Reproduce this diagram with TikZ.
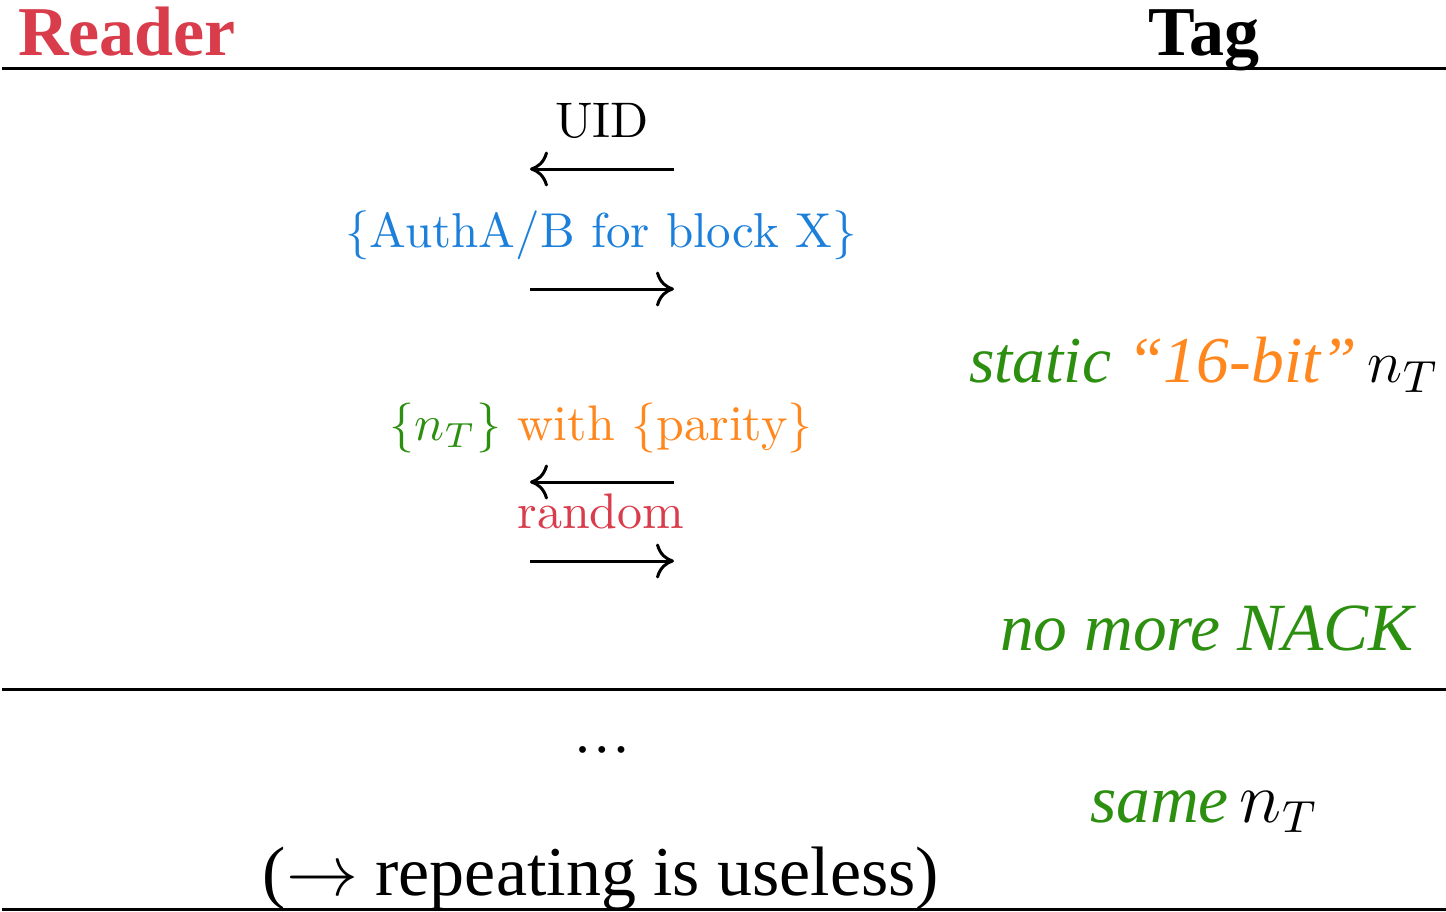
\documentclass[tikz,border=0pt]{standalone}
\usepackage{fontspec}
\newfontfamily\lib{Liberation Serif}
\usetikzlibrary{arrows.meta}
\definecolor{cred}{RGB}{217,60,75}
\definecolor{cblue}{RGB}{28,128,218}
\definecolor{corange}{RGB}{255,135,30}
\definecolor{cgreen}{RGB}{44,143,16}
\tikzset{
  head/.style={anchor=base,inner sep=0pt,font=\lib\bfseries\fontsize{14}{16}\selectfont},
  msg/.style={anchor=base,inner sep=0pt,font=\fontsize{10}{12}\selectfont},
  note/.style={anchor=base,inner sep=0pt,font=\lib\fontsize{13.5}{16}\selectfont},
  rule/.style={line width=0.6pt},
  msgarrow/.style={line width=0.6pt,-{To[length=3.6pt,width=7pt]}}
}
\begin{document}
\begin{tikzpicture}[x=0.2pt,y=-0.2pt]
\useasboundingbox (0,0) rectangle (1446,911);
% headers
\node[head,text=cred] (reader) at (127,55) {Reader};
\node[head] (tag) at (1204,55) {Tag};
\draw[rule] (2,68) -- (1446,68);
% messages
\node[msg] (uid) at (602,137) {UID};
\coordinate (a1s) at (674,169); \coordinate (a1e) at (530,169);
\draw[msgarrow] (a1s) -- (a1e);
\node[msg,text=cblue,font=\fontsize{9.8}{12}\selectfont] (auth) at (601,247) {\{AuthA/B for block X\}};
\coordinate (a2s) at (530,289); \coordinate (a2e) at (674,289);
\draw[msgarrow] (a2s) -- (a2e);
\node[note,font=\lib\fontsize{13.1}{16}\selectfont] (static) at (1204,382) {\textcolor{cgreen}{\itshape static} \textcolor{corange}{\itshape “16-bit”}\,$n_T$};
\node[msg] (nt) at (601,440) {\textcolor{cgreen}{\{$n_T$\}} \textcolor{corange}{with \{parity\}}};
\coordinate (a3s) at (674,482); \coordinate (a3e) at (530,482);
\draw[msgarrow] (a3s) -- (a3e);
\node[msg,text=cred] (random) at (601,528) {random};
\coordinate (a4s) at (530,561); \coordinate (a4e) at (674,561);
\draw[msgarrow] (a4s) -- (a4e);
\node[note,text=cgreen] (nack) at (1207,650) {\itshape no more NACK};
\draw[rule] (2,689) -- (1446,689);
% repetition
\node[anchor=base,inner sep=0pt,font=\lib\fontsize{11.5}{13}\selectfont] (dots) at (602,752) {…};
\node[note] (same) at (1204,822) {\textcolor{cgreen}{\itshape same}\,$n_T$};
\node[anchor=base,inner sep=0pt,font=\lib\fontsize{14}{16}\selectfont] (useless) at (601,895) {($\rightarrow$ repeating is useless)};
\draw[rule] (2,909) -- (1446,909);
\end{tikzpicture}
\end{document}
